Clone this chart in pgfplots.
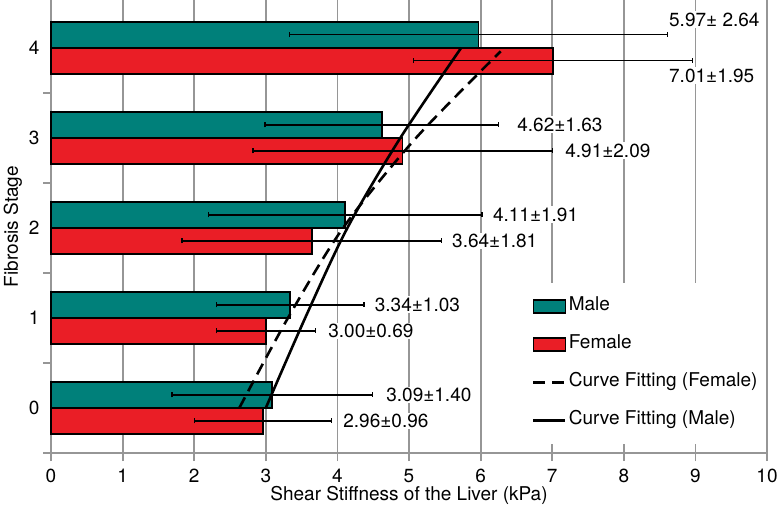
\documentclass[border=0pt]{standalone}
\usepackage{pgfplots}
\pgfplotsset{compat=1.18}
\usepackage{fontspec}
\setmainfont{TeX Gyre Heros}
\definecolor{maleteal}{RGB}{0,128,122}
\definecolor{femred}{RGB}{234,30,38}
\definecolor{gridgray}{RGB}{150,150,150}
\newcommand\f{\fontsize{19bp}{22.8bp}\selectfont}
\pgfplotsset{
  barleg/.style={legend image code/.code={\draw[##1, line width=1.8bp] (0bp,-6.5bp) rectangle (32bp,6.5bp);}},
  lineleg/.style={legend image code/.code={\draw[##1] (0bp,0bp) -- (32bp,0bp);}},
  errb/.style={draw=none, mark=none, forget plot,
    error bars/.cd, x dir=both, x explicit,
    error bar style={draw=black, solid, line width=1.5bp},
    error mark=|,
    error mark options={draw=black, solid, line width=1.3bp, mark size=2.5bp}},
}
\begin{document}
\begin{tikzpicture}
\path[use as bounding box] (-51bp,-57bp) rectangle (729bp,453bp);
\begin{axis}[
  at={(0,0)}, anchor=south west,
  scale only axis, width=716bp, height=453bp,
  xmin=0, xmax=10, ymin=-0.5, ymax=4.53,
  axis x line*=bottom, axis y line*=left,
  axis line style={gridgray, line width=1.8bp},
  xtick={0,...,10}, ytick={0,...,4},
  minor ytick={-0.5,0.5,1.5,2.5,3.5},
  tick align=outside, major tick length=8bp, minor tick length=8bp,
  tick style={gridgray, line width=1.8bp},
  every major y tick/.append style={draw=none},
  xmajorgrids, grid style={gridgray, line width=1.8bp},
  font=\f, tick label style={font=\f}, label style={font=\f},
  xticklabel style={yshift=-5bp},
  xlabel style={yshift=4bp},
  /pgf/number format/assume math mode=true,
  xlabel={Shear Stiffness of the Liver (kPa)},
  ylabel={Fibrosis Stage},
  legend cell align=left,
  legend style={at={(axis cs:6.62,1.39)}, anchor=north west, draw=none, fill=white,
    inner xsep=7bp, inner ysep=13bp, row sep=17bp, font=\f,
    nodes={inner sep=2bp, text height=13bp, text depth=4bp},
    /tikz/every even column/.append style={column sep=8bp}},
  clip=false,
]
\addplot[xbar, bar width=0.289, bar shift=0.1445, fill=maleteal, draw=black, line width=1.8bp, barleg]
  coordinates {(3.09,0) (3.34,1) (4.11,2) (4.62,3) (5.97,4)};
\addlegendentry{Male}
\addplot[xbar, bar width=0.289, bar shift=-0.1445, fill=femred, draw=black, line width=1.8bp, barleg]
  coordinates {(2.96,0) (3.00,1) (3.64,2) (4.91,3) (7.01,4)};
\addlegendentry{Female}
\addplot[black, line width=2.6bp, dash pattern=on 12bp off 7bp, smooth, lineleg]
  coordinates {(2.63,0) (3.31,1) (4.08,2) (5.10,3) (6.28,3.96)};
\addlegendentry{Curve Fitting (Female)}
\addplot[black, line width=2.6bp, smooth, lineleg]
  coordinates {(3.00,0) (3.55,1) (4.14,2) (4.88,3) (5.73,4)};
\addlegendentry{Curve Fitting (Male)}
% error bars (male at +0.1445, female at -0.1445)
\addplot[errb] coordinates {(3.09,0.1445) +- (1.40,0) (3.34,1.1445) +- (1.03,0) (4.11,2.1445) +- (1.91,0) (4.62,3.1445) +- (1.63,0) (5.97,4.1445) +- (2.64,0)};
\addplot[errb] coordinates {(2.96,-0.1445) +- (0.96,0) (3.00,0.8555) +- (0.69,0) (3.64,1.8555) +- (1.81,0) (4.91,2.8555) +- (2.09,0) (7.01,3.8555) +- (1.95,0)};
\begin{scope}[every node/.style={anchor=west, fill=white, inner sep=1.5bp, font=\f}]
\node at (axis cs:4.66,0.145) {3.09±1.40};
\node at (axis cs:4.06,-0.145) {2.96±0.96};
\node at (axis cs:4.50,1.145) {3.34±1.03};
\node at (axis cs:3.85,0.855) {3.00±0.69};
\node at (axis cs:6.15,2.145) {4.11±1.91};
\node at (axis cs:5.58,1.855) {3.64±1.81};
\node at (axis cs:6.49,3.145) {4.62±1.63};
\node at (axis cs:7.16,2.855) {4.91±2.09};
\node at (axis cs:8.61,4.31) {5.97± 2.64};
\node at (axis cs:8.61,3.69) {7.01±1.95};
\end{scope}
\coordinate (br) at (rel axis cs:1,0);
\coordinate (tr) at (rel axis cs:1,1);
\end{axis}
\draw[gridgray, line width=1.8bp] (br) -- (tr);
\end{tikzpicture}
\end{document}
